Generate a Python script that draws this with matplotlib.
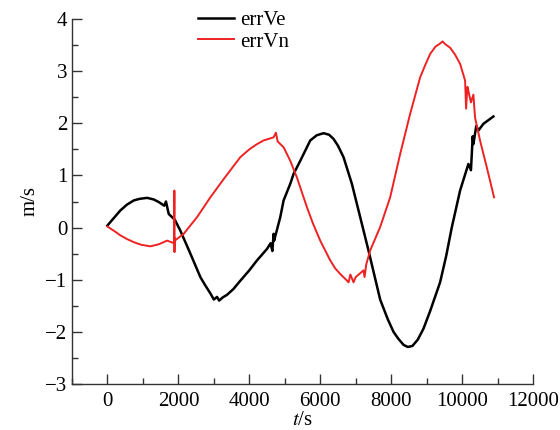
import matplotlib
matplotlib.use("Agg")
import matplotlib.pyplot as plt
from matplotlib.ticker import MultipleLocator

plt.rcParams['font.family'] = ['Liberation Serif', 'DejaVu Serif']
plt.rcParams['mathtext.fontset'] = 'stix'

# errVe (black) key points
t_ve = [0, 100, 366, 550, 742, 900, 1117, 1300, 1446, 1600, 1650, 1728, 1900, 2056, 2338, 2620, 2750,
        2900, 3000, 3089, 3150, 3250, 3371, 3550, 3746, 4000, 4216, 4498, 4600, 4650, 4685, 4700,
        4873, 4967, 5155, 5249, 5437, 5718, 5900, 6094, 6250, 6376, 6500, 6657, 6892, 7127, 7361,
        7690, 7900, 8066, 8200, 8350, 8470, 8600, 8750, 8911, 9100, 9380, 9550, 9709, 9944, 10178,
        10250, 10300, 10319, 10400, 10460, 10601, 10883]
v_ve = [0.04, 0.12, 0.33, 0.44, 0.52, 0.55, 0.57, 0.54, 0.49, 0.42, 0.50, 0.26, 0.15, -0.06, -0.50,
        -0.95, -1.10, -1.26, -1.38, -1.33, -1.40, -1.34, -1.29, -1.18, -1.02, -0.82, -0.63, -0.41,
        -0.30, -0.45, -0.12, -0.25, 0.20, 0.52, 0.84, 1.03, 1.28, 1.67, 1.77, 1.81, 1.78, 1.70,
        1.57, 1.35, 0.84, 0.20, -0.44, -1.38, -1.75, -2.00, -2.13, -2.25, -2.29, -2.27, -2.15,
        -1.94, -1.60, -1.05, -0.55, 0.00, 0.71, 1.22, 1.10, 1.75, 1.60, 1.95, 1.86, 1.99, 2.13]

# errVn (red) key points
t_vn = [0, 200, 366, 550, 742, 950, 1211, 1450, 1681, 1880, 1887, 1890, 1895, 1900, 2150, 2526,
        2902, 3277, 3746, 4000, 4216, 4400, 4685, 4750, 4800, 4967, 5155, 5343, 5625, 5800, 6000,
        6282, 6420, 6563, 6700, 6800, 6850, 6939, 7000, 7221, 7250, 7300, 7408, 7690, 7972, 8254,
        8535, 8817, 8950, 9099, 9250, 9380, 9450, 9520, 9662, 9800, 9944, 10085, 10113, 10150,
        10178, 10250, 10319, 10366, 10507, 10695, 10902]
v_vn = [0.02, -0.07, -0.15, -0.22, -0.28, -0.33, -0.36, -0.32, -0.25, -0.30, 0.71, -0.47, -0.20,
        -0.25, -0.12, 0.20, 0.58, 0.93, 1.35, 1.50, 1.60, 1.67, 1.73, 1.82, 1.65, 1.54, 1.28, 0.96,
        0.39, 0.07, -0.25, -0.63, -0.78, -0.89, -0.98, -1.05, -0.90, -1.05, -0.95, -0.82, -0.95,
        -0.70, -0.44, 0.01, 0.58, 1.41, 2.18, 2.88, 3.10, 3.33, 3.47, 3.53, 3.57, 3.52, 3.45, 3.32,
        3.14, 2.82, 2.28, 2.70, 2.62, 2.40, 2.55, 2.11, 1.67, 1.16, 0.58]

x_ticks = [0, 2000, 4000, 6000, 8000, 10000, 12000]
y_ticks = [-3, -2, -1, 0, 1, 2, 3, 4]

fig = plt.figure(figsize=(5.6, 4.3), dpi=100)
ax = fig.add_axes([72/560, 1-384/430, (533-72)/560, (384-19)/430])

ax.plot(t_ve, v_ve, color='black', lw=1.8, label='errVe')
ax.plot(t_vn, v_vn, color='#ee2222', lw=1.4, label='errVn')

ax.set_xlim(-1000, 12000)
ax.set_ylim(-3, 4)
ax.set_xticks(x_ticks)
ax.set_yticks(y_ticks)
ax.set_yticklabels(['\u22123', '\u22122', '\u22121', '0', '1', '2', '3', '4'])
ax.xaxis.set_minor_locator(MultipleLocator(1000))
ax.yaxis.set_minor_locator(MultipleLocator(0.5))
ax.tick_params(which='both', direction='in', labelsize=15, color='#333333')
ax.tick_params(which='major', length=7, width=1)
ax.tick_params(which='minor', length=4, width=1)
ax.tick_params(axis='x', pad=6)
ax.spines['top'].set_visible(False)
ax.spines['right'].set_visible(False)
for s in ('left', 'bottom'):
    ax.spines[s].set_color('#333333')
    ax.spines[s].set_linewidth(1.0)

ax.set_xlabel('$t$/s', fontsize=15, labelpad=0)
ax.set_ylabel('m/s', fontsize=15, labelpad=4)

leg = ax.legend(loc='upper left', bbox_to_anchor=(190/560, 1-2/430), bbox_transform=fig.transFigure,
                frameon=False, fontsize=15, handlelength=1.7, handletextpad=0.3, labelspacing=0.1,
                borderaxespad=0)

fig.savefig('out.png', dpi=100)
